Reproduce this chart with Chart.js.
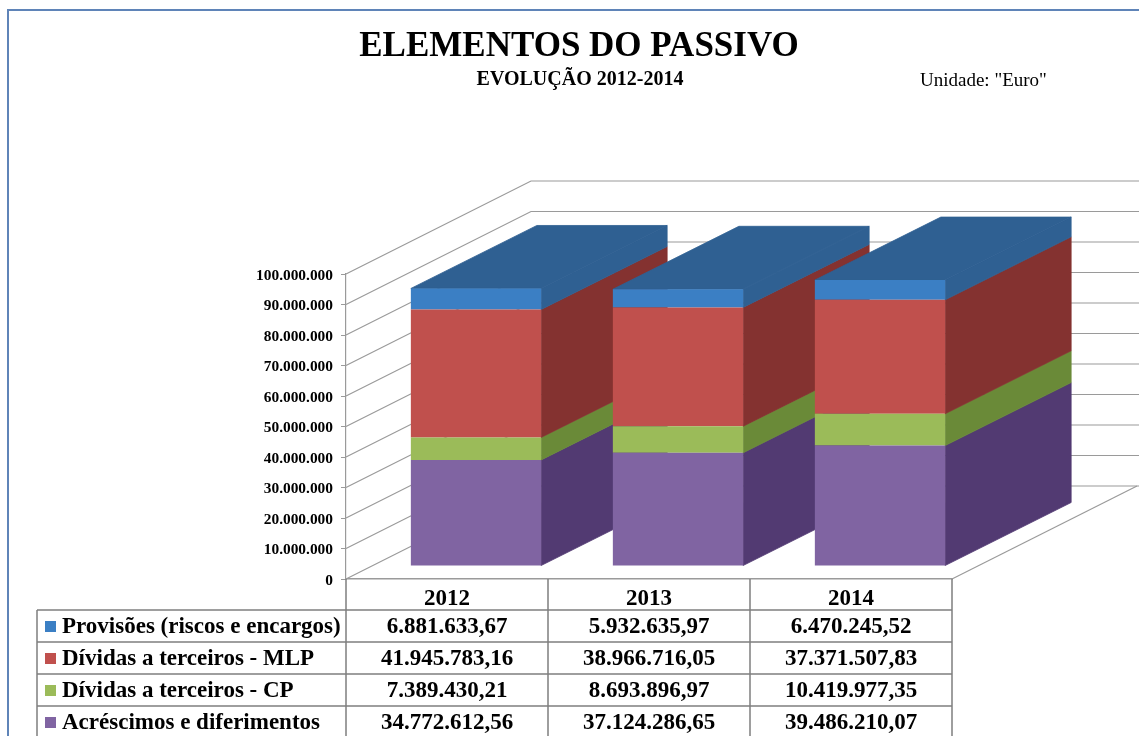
<!DOCTYPE html>
<html lang="pt">
<head>
<meta charset="utf-8">
<title>Elementos do Passivo</title>
<script src="https://cdn.jsdelivr.net/npm/chart.js@4"></script>
<style>
  html, body { margin: 0; padding: 0; background: #fff; overflow: hidden; }
  #frame { position: absolute; left: 7px; top: 9px; width: 1132px; height: 727px; border-left: 2px solid #5f84b8; border-top: 2px solid #5f84b8; box-sizing: border-box; }
  #chart { position: absolute; left: 0; top: 0; display: block; }
</style>
</head>
<body>
<div id="frame"></div>
<canvas id="chart" width="1139" height="736"></canvas>
<script>
// ============================================================
// DATA
// ============================================================
const years = ['2012', '2013', '2014'];
const provisoes = [6881633.67, 5932635.97, 6470245.52];
const dividasMlp = [41945783.16, 38966716.05, 37371507.83];
const dividasCp = [7389430.21, 8693896.97, 10419977.35];
const acrescimos = [34772612.56, 37124286.65, 39486210.07];
const seriesNames = ['Provisões (riscos e encargos)', 'Dívidas a terceiros - MLP', 'Dívidas a terceiros - CP', 'Acréscimos e diferimentos'];
const titleText = 'ELEMENTOS DO PASSIVO';
const subtitleText = 'EVOLUÇÃO 2012-2014';
const unitText = 'Unidade: "Euro"';

// ============================================================
// STYLE
// ============================================================
const SERIF = '"Liberation Serif", "Times New Roman", serif';
const frontColors = ['#3b7fc4', '#c0504d', '#9bbb59', '#8064a2'];
const sideColors = ['#2f6092', '#843230', '#6a8a38', '#523a72'];
const topColor = '#2f6092';
const lineColor = '#9a9a9a';
const tableLine = '#7f7f7f';
const WALL = { dx: 185, dy: -93 };   // depth of the box
const BAR_OFFSET = { dx: 29, dy: -13 };   // front of the bars inside the box
const BAR_DEPTH = { dx: 126, dy: -63 };
const TABLE = { left: 37, top: 610, rowH: 32 };

function fmtEuro(v) {
  const parts = v.toFixed(2).split('.');
  return parts[0].replace(/\B(?=(\d{3})+$)/g, '.') + ',' + parts[1];
}

// the stroke in the fill colour hides the seam between neighbouring faces
function fillPoly(ctx, color, pts) {
  ctx.fillStyle = color;
  ctx.strokeStyle = color;
  ctx.lineWidth = 0.8;
  ctx.beginPath();
  pts.forEach((p, i) => i ? ctx.lineTo(p[0], p[1]) : ctx.moveTo(p[0], p[1]));
  ctx.closePath();
  ctx.fill();
  ctx.stroke();
}

// ============================================================
// 3D BOX AND BAR SIDES (behind the bars)
// ============================================================
const depthPlugin = {
  id: 'depth',
  beforeDatasetsDraw(chart) {
    const { ctx, scales: { x, y } } = chart;
    // walls and floor
    ctx.save();
    ctx.strokeStyle = lineColor;
    ctx.lineWidth = 1.2;
    y.ticks.forEach(t => {
      const py = y.getPixelForValue(t.value);
      ctx.beginPath();
      ctx.moveTo(x.left, py);
      ctx.lineTo(x.left + WALL.dx, py + WALL.dy);
      ctx.lineTo(chart.width, py + WALL.dy);
      ctx.stroke();
    });
    ctx.beginPath();
    ctx.moveTo(x.right, y.bottom);
    ctx.lineTo(x.right + WALL.dx, y.bottom + WALL.dy);
    ctx.stroke();
    ctx.restore();

    // everything after this is moved to the bars' plane, restored in afterDatasetsDraw
    ctx.save();
    ctx.translate(BAR_OFFSET.dx, BAR_OFFSET.dy);
    const dsCount = chart.data.datasets.length;
    years.forEach((yr, j) => {
      for (let i = 0; i < dsCount; i++) {
        const b = chart.getDatasetMeta(i).data[j];
        const right = b.x + b.width / 2;
        fillPoly(ctx, chart.data.datasets[i].sideColor, [
          [right, b.base], [right, b.y],
          [right + BAR_DEPTH.dx, b.y + BAR_DEPTH.dy], [right + BAR_DEPTH.dx, b.base + BAR_DEPTH.dy]
        ]);
      }
      const t = chart.getDatasetMeta(dsCount - 1).data[j];
      const l = t.x - t.width / 2;
      const r = t.x + t.width / 2;
      fillPoly(ctx, topColor, [
        [l, t.y], [r, t.y],
        [r + BAR_DEPTH.dx, t.y + BAR_DEPTH.dy], [l + BAR_DEPTH.dx, t.y + BAR_DEPTH.dy]
      ]);
    });
  },
  afterDatasetsDraw(chart) {
    chart.ctx.restore();
  }
};

// ============================================================
// TITLES AND DATA TABLE
// ============================================================
const tablePlugin = {
  id: 'dataTable',
  afterDraw(chart) {
    const { ctx, scales: { x, y } } = chart;
    const rowValues = [provisoes, dividasMlp, dividasCp, acrescimos];
    const colW = x.width / years.length;
    ctx.save();
    ctx.fillStyle = '#000';
    ctx.textBaseline = 'middle';
    ctx.textAlign = 'center';
    ctx.font = 'bold 35px ' + SERIF;
    ctx.fillText(titleText, 579, 47);
    ctx.font = 'bold 20px ' + SERIF;
    ctx.fillText(subtitleText, 580, 80);
    ctx.textAlign = 'left';
    ctx.font = '19px ' + SERIF;
    ctx.fillText(unitText, 920, 81);

    // grid of the table
    ctx.strokeStyle = tableLine;
    ctx.lineWidth = 1.5;
    ctx.beginPath();
    for (let c = 0; c <= years.length; c++) {
      ctx.moveTo(x.left + c * colW, y.bottom);
      ctx.lineTo(x.left + c * colW, chart.height);
    }
    ctx.moveTo(TABLE.left, TABLE.top);
    ctx.lineTo(TABLE.left, chart.height);
    seriesNames.forEach((n, r) => {
      ctx.moveTo(TABLE.left, TABLE.top + r * TABLE.rowH);
      ctx.lineTo(x.right, TABLE.top + r * TABLE.rowH);
    });
    ctx.stroke();

    // rows
    seriesNames.forEach((name, r) => {
      const cy = TABLE.top + (r + 0.5) * TABLE.rowH;
      ctx.fillStyle = frontColors[r];
      ctx.fillRect(TABLE.left + 8, cy - 5, 11, 11);
      ctx.fillStyle = '#000';
      ctx.font = 'bold 23px ' + SERIF;
      ctx.textAlign = 'left';
      ctx.fillText(name, TABLE.left + 25, cy + 1);
      ctx.textAlign = 'center';
      rowValues[r].forEach((v, c) => ctx.fillText(fmtEuro(v), x.getPixelForTick(c), cy + 1));
    });
    ctx.restore();
  }
};

// ============================================================
// CHART
// ============================================================
new Chart(document.getElementById('chart'), {
  type: 'bar',
  data: {
    labels: years,
    datasets: [
      { label: seriesNames[3], data: acrescimos, backgroundColor: frontColors[3], sideColor: sideColors[3], clip: false },
      { label: seriesNames[2], data: dividasCp, backgroundColor: frontColors[2], sideColor: sideColors[2], clip: false },
      { label: seriesNames[1], data: dividasMlp, backgroundColor: frontColors[1], sideColor: sideColors[1], clip: false },
      { label: seriesNames[0], data: provisoes, backgroundColor: frontColors[0], sideColor: sideColors[0], clip: false }
    ]
  },
  plugins: [depthPlugin, tablePlugin],
  options: {
    responsive: false,
    animation: false,
    barPercentage: 0.645,
    categoryPercentage: 1,
    layout: { padding: { top: 274, right: 187, left: 0, bottom: 0 } },
    plugins: { legend: { display: false }, tooltip: { enabled: false }, title: { display: false } },
    scales: {
      x: {
        stacked: true,
        afterFit: s => { s.height = 157; },
        grid: { display: false },
        border: { display: true, color: lineColor, width: 1.5 },
        ticks: { color: '#000', padding: -2, maxRotation: 0, font: { family: SERIF, size: 23, weight: 'bold' } }
      },
      y: {
        stacked: true,
        min: 0,
        max: 100000000,
        afterFit: s => { s.width = 346; },
        grid: { drawOnChartArea: false, color: lineColor, tickLength: 5 },
        border: { display: true, color: lineColor, width: 1.2 },
        ticks: {
          stepSize: 10000000,
          color: '#000',
          padding: 8,
          labelOffset: 2,
          font: { family: SERIF, size: 15.4, weight: 'bold' },
          callback: v => String(v).replace(/\B(?=(\d{3})+$)/g, '.')
        }
      }
    }
  }
});
</script>
</body>
</html>
